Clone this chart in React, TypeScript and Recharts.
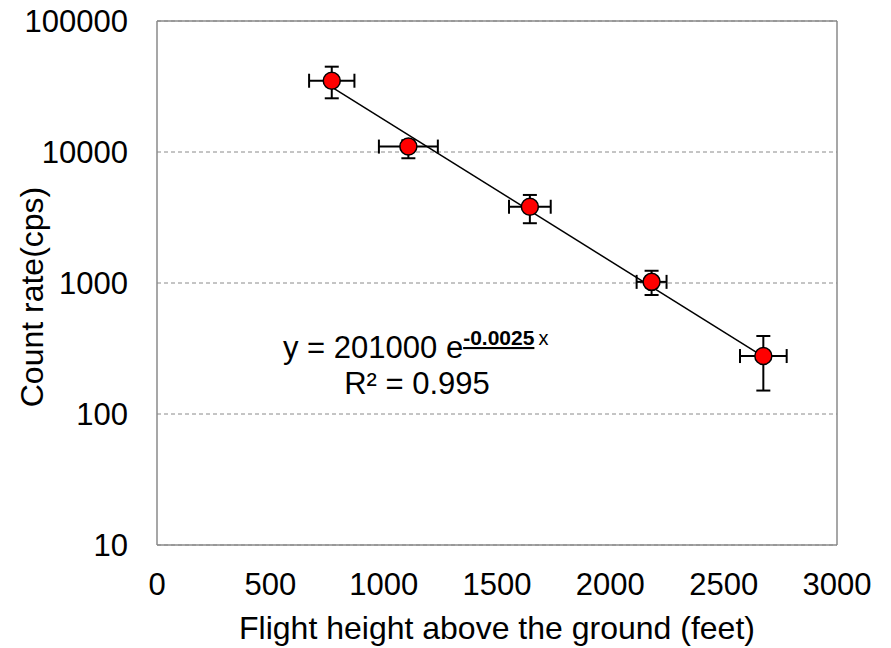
import {
  ComposedChart,
  Scatter,
  Line,
  XAxis,
  YAxis,
  CartesianGrid,
  ErrorBar,
  ReferenceLine,
  Customized,
} from "recharts"

// flight heights (feet) and measured count rates (cps)
const heights = [771, 1109, 1645, 2182, 2675]
const counts = [35000, 11000, 3820, 1020, 277]
const heightErr = [100, 130, 92, 66, 103]
const countLow = [25700, 8960, 2860, 810, 151]
const countHigh = [44800, 12300, 4700, 1240, 394]

// exponential trendline, ends
const trendHeights = [771, 2675]
const trendCounts = [31300, 274]

const xTicks = [0, 500, 1000, 1500, 2000, 2500, 3000]
const yTicks = [10, 100, 1000, 10000, 100000]

const points = heights.map((h, i) => ({
  x: h,
  y: counts[i],
  ex: heightErr[i],
  ey: [counts[i] - countLow[i], countHigh[i] - counts[i]],
}))

const trend = trendHeights.map((h, i) => ({ x: h, y: trendCounts[i] }))

const FONT = "'Liberation Sans', Arial, sans-serif"
const AXIS = "#8a8a8a"

const Marker = (props: any) => {
  const { cx, cy } = props
  if (cx == null || cy == null) return null
  return <circle cx={cx} cy={cy} r={8.5} fill="#ff0000" stroke="#000" strokeWidth={1.5} />
}

const Texts = () => (
  <g fontFamily={FONT} fill="#000">
    <text x={283} y={358} fontSize={31}>
      y = 201000 e
      <tspan fontSize={21} fontWeight="bold" textDecoration="underline" dy={-13}>
        -0.0025
      </tspan>
      <tspan fontSize={20} dx={4}>
        x
      </tspan>
    </text>
    <text x={417} y={394} fontSize={31} textAnchor="middle">
      R² = 0.995
    </text>
    <text x={497} y={639} fontSize={32} textAnchor="middle">
      Flight height above the ground (feet)
    </text>
    <text x={43} y={297} fontSize={32} textAnchor="middle" transform="rotate(-90 43 297)">
      Count rate(cps)
    </text>
  </g>
)

export default function App() {
  return (
    <div style={{ position: "absolute", left: 0, top: 0, background: "#fff" }}>
      <ComposedChart
        width={891}
        height={648}
        margin={{ top: 21, right: 54, bottom: 0, left: 0 }}
      >
        <CartesianGrid vertical={false} stroke={AXIS} strokeDasharray="4 3" />
        <XAxis
          type="number"
          dataKey="x"
          domain={[0, 3000]}
          ticks={xTicks}
          height={103}
          tickLine={false}
          axisLine={{ stroke: AXIS, strokeWidth: 1.5 }}
          tick={{ fill: "#000", fontSize: 31, fontFamily: FONT }}
          tickMargin={22}
          allowDataOverflow
        />
        <YAxis
          type="number"
          dataKey="y"
          scale="log"
          domain={[10, 100000]}
          ticks={yTicks}
          width={157}
          tickLine={false}
          axisLine={{ stroke: AXIS, strokeWidth: 1.5 }}
          tick={{ fill: "#000", fontSize: 31, fontFamily: FONT }}
          tickMargin={23}
          allowDataOverflow
        />
        <ReferenceLine y={100000} stroke={AXIS} strokeWidth={1.5} />
        <ReferenceLine x={3000} stroke={AXIS} strokeWidth={1.5} />
        <Scatter data={points} dataKey="y" shape={<Marker />} isAnimationActive={false}>
          <ErrorBar dataKey="ex" direction="x" width={7} stroke="#000" strokeWidth={2} />
          <ErrorBar dataKey="ey" direction="y" width={7} stroke="#000" strokeWidth={2} />
        </Scatter>
        <Line
          data={trend}
          dataKey="y"
          type="linear"
          dot={false}
          stroke="#000"
          strokeWidth={1.5}
          isAnimationActive={false}
        />
        <Customized component={Texts} />
      </ComposedChart>
    </div>
  )
}
